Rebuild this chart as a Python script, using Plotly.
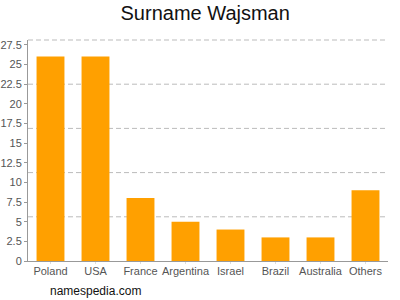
import plotly.graph_objects as go

categories = ["Poland", "USA", "France", "Argentina", "Israel", "Brazil", "Australia", "Others"]
values = [26, 26, 8, 5, 4, 3, 3, 9]
tick_vals = [0, 2.5, 5, 7.5, 10, 12.5, 15, 17.5, 20, 22.5, 25, 27.5]
tick_text = ["0", "2.5", "5", "7.5", "10", "12.5", "15", "17.5", "20", "22.5", "25", "27.5"]
y_max = 28.1

fig = go.Figure(go.Bar(x=categories, y=values, marker_color="#FFA000", marker_line_width=0))

shapes = []
for k in range(1, 6):
    shapes.append(dict(type="line", xref="paper", yref="paper", x0=0, x1=1, y0=k / 5, y1=k / 5,
                       line=dict(color="#bbbbbb", width=1, dash="5px,3px"), layer="below"))

fig.update_layout(
    width=400, height=300,
    margin=dict(l=28, r=12, t=40, b=39),
    paper_bgcolor="white", plot_bgcolor="white",
    bargap=0.38,
    showlegend=False,
    shapes=shapes,
    font=dict(family="Liberation Sans, Arial, sans-serif", color="#555555", size=11),
    title=dict(text="Surname Wajsman", x=0.513, xanchor="center", y=0.957, yanchor="middle",
               font=dict(size=20, color="#111111", family="Liberation Sans, Arial, sans-serif")),
    xaxis=dict(showline=True, linecolor="#999999", linewidth=1, ticks="outside", ticklen=2,
               tickcolor="#dddddd", showgrid=False, automargin=False, ticklabelstandoff=-2,
               tickfont=dict(size=11, color="#555555")),
    yaxis=dict(range=[0, y_max], tickvals=tick_vals, ticktext=tick_text, showline=True,
               linecolor="#999999", linewidth=1, ticks="outside", ticklen=3, tickcolor="#999999",
               showgrid=False, zeroline=False, automargin=False,
               tickfont=dict(size=11, color="#555555")),
    annotations=[dict(text="namespedia.com", xref="paper", yref="paper", x=0, y=-0.137,
                      xanchor="left", yanchor="middle", showarrow=False, xshift=20,
                      font=dict(size=12, color="#111111"))],
)

fig.write_html("out.html")
